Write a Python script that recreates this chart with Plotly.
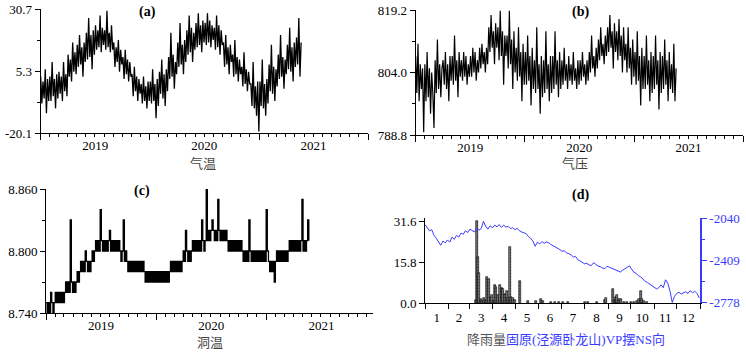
import plotly.graph_objects as go
import pandas as pd

# ---------------- data ----------------
# (a) air temperature, Jan 2019 .. May 2021, ~8 samples per month
temp_vals = [
    3, -8, 1, -6, 6, -12, 2, -7,
    3, -7, 9, -5, 2, -10, 4, -6,
    5, -4, 3, -7, 9, -3, 4, -5,
    12, 3, 10, 1, 17, 5, 13, 4,
    16, 7, 20, 8, 15, 3, 17, 9,
    21, 10, 27, 11, 20, 6, 22, 12,
    24, 14, 22, 15, 28, 13, 23, 16,
    22, 14, 30, 15, 21, 13, 24, 14,
    17, 7, 15, 9, 18, 5, 14, 8,
    11, 2, 14, 4, 10, 1, 9, 3,
    4, -5, 7, -3, 3, -7, 2, -4,
    0, -8, 3, -7, -1, -10, 1, -7,
    1, -8, 6, -7, 0, -14, 2, -9,
    5, -4, 10, -6, 4, -9, 6, -3,
    11, 2, 21, 3, 12, -2, 9, 4,
    17, 7, 25, 8, 16, 4, 18, 9,
    22, 12, 28, 13, 23, 9, 21, 14,
    25, 15, 29, 16, 24, 13, 26, 17,
    25, 16, 29, 17, 26, 15, 24, 18,
    23, 14, 28, 15, 24, 12, 22, 16,
    17, 7, 20, 8, 15, 4, 16, 9,
    12, 3, 18, 4, 11, 1, 10, 4,
    7, -1, 13, 0, 6, -3, 5, 0,
    0, -9, 9, -10, -1, -13, 1, -19.5,
    1, -9, 10, -10, 0, -13, 2, -8,
    8, -3, 16, -4, 7, -7, 6, -1,
    12, 2, 20, 3, 11, -2, 10, 4,
    16, 6, 23, 5, 15, 1, 17, 7,
    19, 8, 27, 3, 17,
]
# (b) air pressure
pres_vals = [
    808, 799, 811, 797, 806, 800, 805, 789.5,
    806, 797, 809, 798, 805, 794, 804, 799,
    790.5, 807, 799, 812, 800, 806, 798, 805,
    807, 801, 809, 800, 806, 797, 808, 802,
    808, 801, 813, 802, 807, 798, 809, 803,
    807, 802, 809, 803, 808, 801, 806, 803,
    808, 803, 810, 804, 809, 802, 807, 804,
    810, 805, 811, 806, 809, 804, 810, 806,
    815, 809, 818, 810, 814, 806, 816, 810,
    815, 807, 819, 808, 814, 801, 813, 808,
    813, 805, 819, 806, 812, 800, 814, 804,
    810, 802, 815, 803, 809, 797, 811, 801,
    809, 801, 813, 802, 808, 796, 810, 800,
    807, 799, 815, 800, 806, 794, 808, 798,
    807, 799, 814, 800, 806, 797, 808, 799,
    808, 800, 814, 801, 807, 798, 809, 800,
    807, 801, 810, 802, 806, 800, 808, 802,
    806, 801, 809, 802, 805, 800, 807, 801,
    807, 802, 809, 803, 806, 801, 807, 802,
    809, 804, 813, 805, 808, 803, 810, 805,
    812, 807, 815, 808, 811, 806, 813, 808,
    815, 809, 818, 810, 814, 805, 816, 809,
    814, 807, 817, 808, 813, 804, 815, 807,
    811, 804, 815, 805, 810, 801, 812, 803,
    809, 801, 814, 802, 808, 796, 810, 800,
    808, 800, 813, 801, 807, 797, 809, 799,
    808, 800, 813, 801, 807, 795, 809, 799,
    808, 800, 812, 801, 807, 797, 809, 800,
    806, 799, 811, 797, 805,
]
# (c) cave temperature
cave_vals = [
    8.75, 8.74, 8.75, 8.74, 8.76, 8.75, 8.74, 8.75,
    8.76, 8.75, 8.76, 8.75, 8.76, 8.75, 8.76, 8.75,
    8.76, 8.77, 8.76, 8.77, 8.76, 8.83, 8.77, 8.76,
    8.77, 8.76, 8.77, 8.78, 8.77, 8.78, 8.79, 8.78,
    8.79, 8.78, 8.80, 8.79, 8.78, 8.79, 8.78, 8.79,
    8.80, 8.79, 8.80, 8.81, 8.80, 8.81, 8.80, 8.84,
    8.81, 8.80, 8.81, 8.80, 8.81, 8.80, 8.81, 8.82,
    8.80, 8.81, 8.80, 8.81, 8.80, 8.81, 8.80, 8.81,
    8.80, 8.79, 8.80, 8.83, 8.79, 8.80, 8.79, 8.78,
    8.79, 8.78, 8.79, 8.78, 8.79, 8.78, 8.79, 8.78,
    8.79, 8.78, 8.79, 8.78, 8.79, 8.78, 8.77, 8.78,
    8.77, 8.78, 8.77, 8.78, 8.77, 8.78, 8.77, 8.78,
    8.77, 8.78, 8.77, 8.78, 8.77, 8.78, 8.77, 8.78,
    8.77, 8.78, 8.77, 8.78, 8.79, 8.78, 8.79, 8.78,
    8.79, 8.78, 8.79, 8.78, 8.79, 8.78, 8.79, 8.80,
    8.79, 8.82, 8.80, 8.79, 8.80, 8.79, 8.80, 8.81,
    8.80, 8.81, 8.80, 8.81, 8.80, 8.81, 8.80, 8.83,
    8.81, 8.80, 8.81, 8.86, 8.81, 8.82, 8.81, 8.82,
    8.83, 8.82, 8.81, 8.82, 8.81, 8.85, 8.82, 8.81,
    8.82, 8.81, 8.82, 8.81, 8.82, 8.81, 8.80, 8.81,
    8.80, 8.81, 8.80, 8.81, 8.80, 8.81, 8.80, 8.81,
    8.80, 8.81, 8.80, 8.79, 8.80, 8.79, 8.80, 8.79,
    8.83, 8.80, 8.79, 8.80, 8.79, 8.80, 8.79, 8.80,
    8.79, 8.80, 8.79, 8.80, 8.79, 8.80, 8.79, 8.84,
    8.80, 8.79, 8.78, 8.79, 8.78, 8.79, 8.77, 8.79,
    8.80, 8.79, 8.80, 8.79, 8.80, 8.79, 8.80, 8.79,
    8.80, 8.79, 8.80, 8.81, 8.80, 8.81, 8.80, 8.81,
    8.80, 8.81, 8.80, 8.81, 8.80, 8.81, 8.85, 8.80,
    8.81, 8.80, 8.81, 8.83, 8.81,
]
# (d) VP pendulum NS (blue), one year, ~3-day samples
tilt_vals = [
    -2096, -2120, -2150, -2140, -2190, -2215, -2245, -2277, -2240, -2255,
    -2230, -2250, -2205, -2225, -2190, -2205, -2170, -2180, -2150, -2165,
    -2135, -2150, -2160, -2125, -2145, -2130, -2067, -2110, -2135, -2105,
    -2125, -2100, -2115, -2095, -2120, -2100, -2118, -2110, -2130, -2122,
    -2140, -2128, -2150, -2160, -2170, -2175, -2200, -2215, -2240, -2286,
    -2250, -2265, -2245, -2260, -2248, -2255, -2270, -2280, -2295, -2305,
    -2315, -2330, -2325, -2345, -2350, -2362, -2380, -2375, -2405, -2415,
    -2425, -2440, -2435, -2450, -2455, -2430, -2445, -2460, -2465, -2478,
    -2482, -2462, -2470, -2478, -2485, -2490, -2500, -2512, -2495, -2480,
    -2465, -2458, -2490, -2515, -2525, -2545, -2555, -2575, -2595, -2605,
    -2620, -2635, -2645, -2660, -2650, -2625, -2650, -2580, -2610, -2680,
    -2780, -2725, -2700, -2690, -2705, -2695, -2685, -2700, -2675, -2695,
    -2680, -2700, -2740,
]
# (d) rainfall: day of year and mm
rain_day = [67, 68.6, 70.4, 71.7, 73.9, 76.1, 78.3, 80.5, 82.7, 84.5, 87.2, 89.4,
            91.2, 92.9, 94.7, 96.9, 99.6, 101.8, 104.0, 106.2, 108.4, 110.2, 112.4,
            114.6, 117.3, 119.0, 126.1, 136.7, 146.9, 154.4, 156.6, 166.8, 172.6,
            177.9, 183.6, 190.3, 212.4, 216.4, 227.9, 238.5, 239.8, 249.6, 251.8,
            253.1, 255.3, 257.5, 260.6, 264.2, 268.6, 273.0, 277.4, 281.0, 284.1,
            286.3, 288.5, 290.7, 295.1]
rain_mm = [1.0, 31.6, 17.7, 11.7, 1.5, 0.8, 1.8, 1.2, 10.0, 9.4, 2.3, 2.9,
           0.8, 7.1, 6.2, 2.9, 7.1, 5.8, 5.3, 3.6, 4.5, 1.9, 21.6,
           2.3, 1.9, 1.0, 8.4, 0.6, 0.6, 1.7, 0.6, 0.4, 0.4,
           0.4, 0.4, 0.4, 0.4, 0.4, 0.4, 1.0, 1.9, 5.5, 1.2,
           2.3, 3.0, 1.4, 1.4, 0.5, 0.5, 0.5, 0.5, 0.8, 1.4,
           4.5, 1.4, 0.6, 0.4]

a_ticks = [-20.1, 5.3, 30.7]
b_ticks = [788.8, 804.0, 819.2]
c_ticks = [8.740, 8.800, 8.860]
d_left_ticks = [0.0, 15.8, 31.6]
d_right_ticks = [-2778, -2409, -2040]

# ---------------- figure ----------------
W, H = 746, 352
BLUE = "#3a3aff"
SERIF = "Liberation Serif, Times New Roman, serif"
CJK = "Noto Sans CJK SC"


def fx(px):
    return px / W


def fy(py):
    return 1 - py / H


dates_a = pd.date_range("2019-01-01", "2021-05-22", periods=len(temp_vals))
dates_b = pd.date_range("2019-01-01", "2021-05-22", periods=len(pres_vals))
dates_c = pd.date_range("2019-01-01", "2021-05-22", periods=len(cave_vals))
dates_d = pd.date_range("2021-01-01", "2021-12-31", periods=len(tilt_vals))
rain_dates = [pd.Timestamp("2021-01-01") + pd.Timedelta(days=d) for d in rain_day]

fig = go.Figure()
fig.add_trace(go.Scatter(x=dates_a, y=temp_vals, mode="lines",
                         line=dict(color="black", width=1.3), xaxis="x", yaxis="y"))
fig.add_trace(go.Scatter(x=dates_b, y=pres_vals, mode="lines",
                         line=dict(color="black", width=1.2), xaxis="x2", yaxis="y2"))
fig.add_trace(go.Scatter(x=dates_c, y=cave_vals, mode="lines",
                         line=dict(color="black", width=1.3, shape="hv"), xaxis="x3", yaxis="y3"))
fig.add_trace(go.Bar(x=rain_dates, y=rain_mm, width=2.5 * 86400000,
                     marker=dict(color="#555555", line=dict(color="black", width=0.6),
                                 pattern=dict(shape=".", fgcolor="black", bgcolor="#888888",
                                              size=3, solidity=0.4)),
                     xaxis="x4", yaxis="y4"))
fig.add_trace(go.Scatter(x=dates_d, y=tilt_vals, mode="lines",
                         line=dict(color=BLUE, width=1), xaxis="x4", yaxis="y5"))

tickfont = dict(family=SERIF, size=13, color="black")


def year_axis(x0, x1, anchor, rng):
    return dict(domain=[fx(x0), fx(x1)], anchor=anchor, type="date", range=rng,
                tick0="2019-01-01", dtick="M12", tickformat="%Y", ticklabelmode="period",
                ticks="outside", ticklen=6, tickwidth=1, tickcolor="black",
                ticklabelstandoff=-6,
                minor=dict(dtick="M1", ticks="outside", ticklen=3, tickcolor="black", tickwidth=1),
                showline=True, linecolor="black", linewidth=1, showgrid=False, zeroline=False,
                tickfont=tickfont)


def val_axis(y0, y1, anchor, rng, tv, tt, minor_vals):
    return dict(domain=[fy(y1), fy(y0)], anchor=anchor, range=rng,
                tickmode="array", tickvals=tv, ticktext=tt,
                ticks="outside", ticklen=5, tickwidth=1, tickcolor="black",
                minor=dict(tickmode="array", tickvals=minor_vals, ticks="outside",
                           ticklen=3, tickcolor="black", tickwidth=1),
                showline=True, linecolor="black", linewidth=1, showgrid=False, zeroline=False,
                tickfont=tickfont)


layout = dict(
    width=W, height=H, margin=dict(l=0, r=0, t=0, b=0, autoexpand=False),
    paper_bgcolor="white", plot_bgcolor="white", showlegend=False, bargap=0,
    xaxis=year_axis(40.7, 368, "y", ["2019-01-01", "2022-01-01"]),
    yaxis=val_axis(9, 133, "x", [-20.1, 30.7], a_ticks, ["-20.1", "5.3", "30.7"], [-7.4, 18.0]),
    xaxis2=year_axis(415.7, 743, "y2", ["2019-01-01", "2022-01-01"]),
    yaxis2=val_axis(10, 135, "x2", [788.8, 819.2], b_ticks, ["788.8", "804.0", "819.2"], [796.4, 811.6]),
    xaxis3=year_axis(46, 373, "y3", ["2019-01-01", "2021-12-21"]),
    yaxis3=val_axis(189, 313, "x3", [8.740, 8.860], c_ticks, ["8.740", "8.800", "8.860"], [8.770, 8.830]),
    xaxis4=dict(domain=[fx(425), fx(700)], anchor="y4", type="date",
                range=["2021-01-01", "2022-01-01"], tick0="2021-01-01", dtick="M1",
                tickformat="%-m", ticklabelmode="period", ticks="outside", ticklen=5,
                ticklabelstandoff=-3,
                tickwidth=1, tickcolor="black", showline=True, linecolor="black",
                linewidth=1, showgrid=False, zeroline=False, tickfont=tickfont),
    yaxis4=dict(domain=[fy(303), fy(218)], anchor="x4", range=[0, 32.76],
                tickmode="array", tickvals=d_left_ticks, ticktext=["0.0", "15.8", "31.6"],
                ticks="outside", ticklen=5, tickwidth=1, tickcolor="black",
                showline=True, linecolor="black", linewidth=1, showgrid=False,
                zeroline=False, tickfont=tickfont),
    yaxis5=dict(overlaying="y4", side="right", anchor="x4", range=[-2784, -2037.4],
                tickmode="array", tickvals=d_right_ticks, ticktext=["-2778", "-2409", "-2040"],
                ticks="outside", ticklen=5, tickwidth=1, tickcolor=BLUE,
                minor=dict(tickmode="array", tickvals=[-2593.5, -2224.5], ticks="outside",
                           ticklen=3, tickcolor=BLUE, tickwidth=1),
                showline=True, linecolor=BLUE, linewidth=1.5, showgrid=False,
                zeroline=False, tickfont=dict(family=SERIF, size=13, color=BLUE)),
)
fig.update_layout(**layout)

ann = []
for txt, px, py in [("(a)", 147, 12), ("(b)", 580, 12), ("(c)", 142, 191), ("(d)", 580, 195)]:
    ann.append(dict(text="<b>" + txt + "</b>", x=fx(px), y=fy(py), xref="paper", yref="paper",
                    showarrow=False, xanchor="center", yanchor="middle",
                    font=dict(family=SERIF, size=14, color="black")))
for txt, px, py in [("气温", 203, 162), ("气压", 575, 162), ("洞温", 210, 341)]:
    ann.append(dict(text=txt, x=fx(px), y=fy(py), xref="paper", yref="paper",
                    showarrow=False, xanchor="center", yanchor="middle",
                    font=dict(family=CJK, size=13, color="#444444")))
ann.append(dict(text='<span style="color:#555555">降雨量</span>'
                     '<span style="color:%s">固原(泾源卧龙山)VP摆NS向</span>' % BLUE,
                x=fx(566), y=fy(339), xref="paper", yref="paper", showarrow=False,
                xanchor="center", yanchor="middle",
                font=dict(family="Liberation Serif, " + CJK, size=13)))
fig.update_layout(annotations=ann)

# remove the page's default body margin so the figure sits at the window corner
fig.write_html("out.html",
               config={"displayModeBar": False},
               post_script="document.body.style.margin='0px';document.body.style.overflow='hidden';")
